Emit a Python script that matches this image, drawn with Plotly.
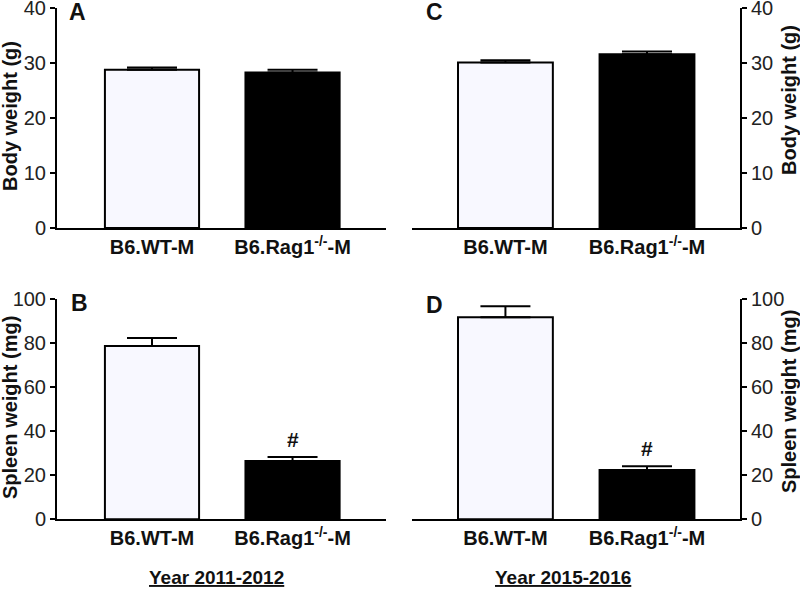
import plotly.graph_objects as go

# ---------------------------------------------------------------
# data (mean + SEM, upward error only)
# ---------------------------------------------------------------
groups = ["B6.WT-M", "B6.Rag1<sup>-/-</sup>-M"]
bar_colors = ["#f8f8ff", "#000000"]

body_2011 = [28.8, 28.3]
body_2011_err = [0.4, 0.5]
body_2015 = [30.1, 31.6]
body_2015_err = [0.4, 0.5]

spleen_2011 = [78.8, 26.5]
spleen_2011_err = [3.7, 1.8]
spleen_2015 = [91.9, 22.4]
spleen_2015_err = [5.0, 1.7]

sig_marks = ["", "#"]  # significance marks above spleen bars
body_ticks = [0, 10, 20, 30, 40]
spleen_ticks = [0, 20, 40, 60, 80, 100]

W, H = 800, 589
FONT = "Arial, Liberation Sans, sans-serif"
xpos = [0, 1]


def bar_trace(values, errors, xa, ya):
    return go.Bar(
        x=xpos, y=values, xaxis=xa, yaxis=ya, width=0.67,
        marker=dict(color=bar_colors, line=dict(color="black", width=2)),
        error_y=dict(type="data", symmetric=False, array=errors,
                     arrayminus=[0, 0], color="black", thickness=2, width=25),
        showlegend=False, hoverinfo="y",
    )


fig = go.Figure()
fig.add_trace(bar_trace(body_2011, body_2011_err, "x", "y"))
fig.add_trace(bar_trace(body_2015, body_2015_err, "x2", "y2"))
fig.add_trace(bar_trace(spleen_2011, spleen_2011_err, "x3", "y3"))
fig.add_trace(bar_trace(spleen_2015, spleen_2015_err, "x4", "y4"))

left_dom = [57 / W, 386 / W]
right_dom = [412 / W, 740 / W]
top_dom = [1 - 228 / H, 1 - 8 / H]
bot_dom = [1 - 519.3 / H, 1 - 299.3 / H]


def xax(dom, anchor, rng):
    return dict(domain=dom, anchor=anchor, range=rng, tickvals=xpos, ticktext=groups,
                showline=True, linewidth=2, linecolor="black", ticks="",
                showgrid=False, zeroline=False, automargin=False,
                tickfont=dict(family=FONT, size=20, color="#111", weight="bold"),
                fixedrange=True)


def yax(dom, anchor, rng, ticks, side):
    return dict(domain=dom, anchor=anchor, range=rng, tickvals=ticks, side=side,
                showline=True, linewidth=2, linecolor="black", ticks="outside",
                ticklen=5, tickwidth=2, tickcolor="black", ticklabeloverflow="allow",
                showgrid=False, zeroline=False, automargin=False,
                tickfont=dict(family=FONT, size=20, color="#222"), fixedrange=True)


fig.update_layout(
    width=W, height=H, margin=dict(l=0, r=0, t=0, b=0),
    plot_bgcolor="white", paper_bgcolor="white",
    font=dict(family=FONT, color="black"),
    xaxis=xax(left_dom, "y", [-0.676, 1.665]),
    yaxis=yax(top_dom, "x", [0, 40.02], body_ticks, "left"),
    xaxis2=xax(right_dom, "y2", [-0.66, 1.657]),
    yaxis2=yax(top_dom, "x2", [0, 40.02], body_ticks, "right"),
    xaxis3=xax(left_dom, "y3", [-0.676, 1.665]),
    yaxis3=yax(bot_dom, "x3", [0, 100.05], spleen_ticks, "left"),
    xaxis4=xax(right_dom, "y4", [-0.66, 1.657]),
    yaxis4=yax(bot_dom, "x4", [0, 100.05], spleen_ticks, "right"),
)

ann = []
# panel letters
for letter, px, py in [("A", 77, 12), ("C", 435, 12), ("B", 79, 303), ("D", 435, 305)]:
    ann.append(dict(text="<b>%s</b>" % letter, x=px / W, y=1 - py / H, xref="paper", yref="paper",
                    xanchor="center", yanchor="middle", showarrow=False,
                    font=dict(size=23, family=FONT, color="#111")))

# axis titles
for txt, px, py in [("Body weight (g)", 10, 116), ("Body weight (g)", 789, 100),
                    ("Spleen weight (mg)", 10, 408), ("Spleen weight (mg)", 789, 402)]:
    ann.append(dict(text="<b>%s</b>" % txt, x=px / W, y=1 - py / H, xref="paper", yref="paper",
                    xanchor="center", yanchor="middle", textangle=-90, showarrow=False,
                    font=dict(size=20, family=FONT, color="#111")))

# significance marks
for vals, errs, xr, yr in [(spleen_2011, spleen_2011_err, "x3", "y3"),
                           (spleen_2015, spleen_2015_err, "x4", "y4")]:
    for i, m in enumerate(sig_marks):
        if m:
            ann.append(dict(text="<b>%s</b>" % m, x=xpos[i], y=vals[i] + errs[i], xref=xr, yref=yr,
                            xanchor="center", yanchor="bottom", yshift=4, showarrow=False,
                            font=dict(size=21, family=FONT, color="#111")))

# year captions
for txt, px in [("Year 2011-2012", 216), ("Year 2015-2016", 563)]:
    ann.append(dict(text="<b><u>%s</u></b>" % txt, x=px / W, y=1 - 577 / H, xref="paper", yref="paper",
                    xanchor="center", yanchor="middle", showarrow=False,
                    font=dict(size=19, family=FONT, color="#111")))

fig.update_layout(annotations=ann)

# the page has a default 8px body margin; drop it so the figure fills the window
fig.write_html("out.html", config={"displayModeBar": False},
               post_script="document.body.style.margin='0';")
